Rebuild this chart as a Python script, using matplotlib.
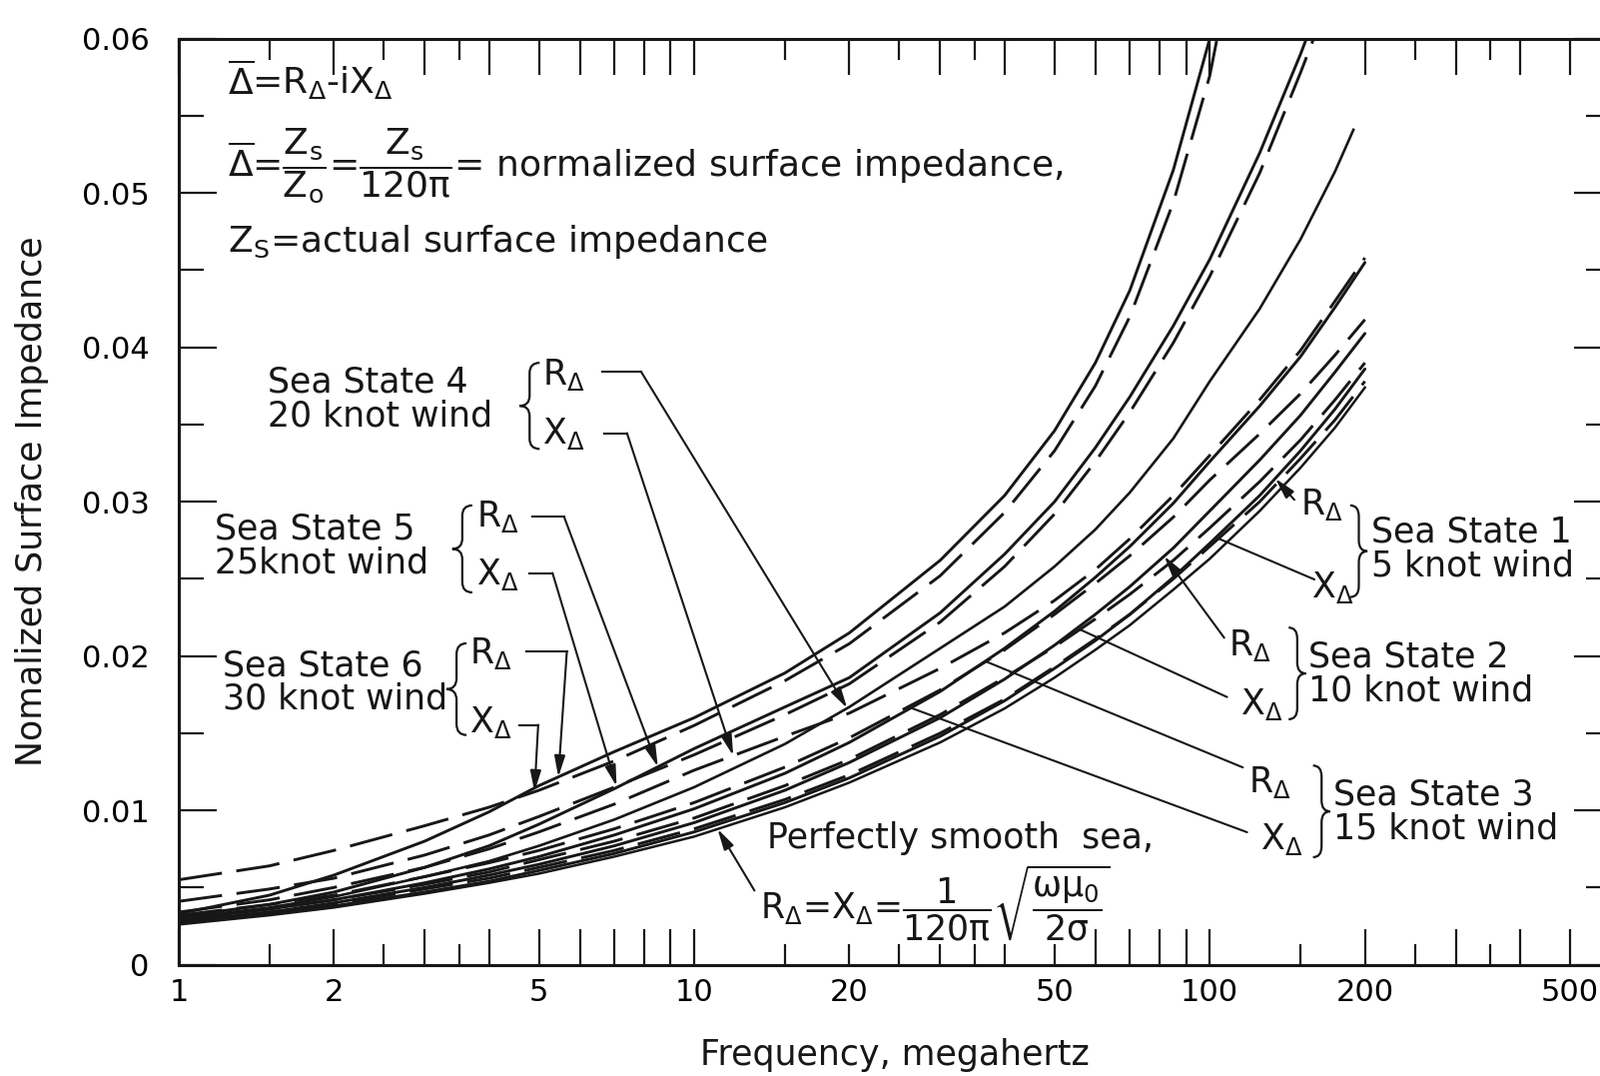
import numpy as np
import matplotlib
matplotlib.use('Agg')
import matplotlib.pyplot as plt
from matplotlib.path import Path
from matplotlib.patches import PathPatch
from matplotlib.ticker import FixedLocator, FixedFormatter, NullFormatter

plt.rcParams['font.family'] = ['DejaVu Sans']
plt.rcParams['mathtext.default'] = 'regular'

freq = [1, 1.5, 2, 3, 4, 5, 7, 10, 15, 20, 30, 40, 50, 60, 70, 85, 100, 125, 150, 175, 200]
freq_r4 = [1, 1.5, 2, 3, 4, 5, 7, 10, 15, 20, 30, 40, 50, 60, 70, 85, 100, 125, 150, 175, 190]

# normalized surface impedance readings
smooth = [0.0026, 0.0032, 0.0037, 0.0046, 0.0053, 0.0059, 0.0070, 0.0083, 0.0102, 0.0118, 0.0144,
          0.0166, 0.0186, 0.0204, 0.0220, 0.0243, 0.0263, 0.0294, 0.0322, 0.0348, 0.0374]
r1 = [0.0027, 0.0033, 0.0038, 0.0047, 0.0054, 0.0061, 0.0072, 0.0086, 0.0105, 0.0121, 0.0148,
      0.0171, 0.0192, 0.0210, 0.0227, 0.0251, 0.0273, 0.0304, 0.0333, 0.0360, 0.0386]
x1 = [0.0028, 0.0034, 0.0039, 0.0049, 0.0056, 0.0063, 0.0074, 0.0088, 0.0107, 0.0123, 0.0150,
      0.0172, 0.0193, 0.0211, 0.0227, 0.0250, 0.0271, 0.0300, 0.0328, 0.0353, 0.0378]
r2 = [0.0028, 0.0034, 0.0040, 0.0050, 0.0058, 0.0065, 0.0077, 0.0092, 0.0113, 0.0131, 0.0160,
      0.0185, 0.0207, 0.0227, 0.0245, 0.0270, 0.0294, 0.0327, 0.0356, 0.0384, 0.0409]
x2 = [0.0030, 0.0036, 0.0042, 0.0052, 0.0060, 0.0068, 0.0080, 0.0095, 0.0116, 0.0133, 0.0162,
      0.0186, 0.0206, 0.0224, 0.0240, 0.0262, 0.0283, 0.0313, 0.0340, 0.0366, 0.0390]
r3 = [0.0029, 0.0036, 0.0042, 0.0053, 0.0062, 0.0070, 0.0084, 0.0101, 0.0124, 0.0144, 0.0177,
      0.0205, 0.0229, 0.0251, 0.0271, 0.0299, 0.0326, 0.0362, 0.0394, 0.0426, 0.0455]
x3 = [0.0032, 0.0039, 0.0045, 0.0057, 0.0066, 0.0074, 0.0088, 0.0105, 0.0128, 0.0147, 0.0178,
      0.0204, 0.0227, 0.0247, 0.0265, 0.0290, 0.0314, 0.0344, 0.0370, 0.0395, 0.0418]
r4 = [0.0030, 0.0037, 0.0044, 0.0057, 0.0067, 0.0077, 0.0094, 0.0115, 0.0143, 0.0167, 0.0205,
      0.0232, 0.0258, 0.0282, 0.0306, 0.0341, 0.0378, 0.0425, 0.0470, 0.0514, 0.0541]
x4 = [0.0034, 0.0042, 0.0050, 0.0063, 0.0075, 0.0086, 0.0104, 0.0126, 0.0148, 0.0163, 0.0192,
      0.0215, 0.0236, 0.0256, 0.0276, 0.0304, 0.0330, 0.0366, 0.0398, 0.0430, 0.0458]
r5 = [0.0031, 0.0039, 0.0047, 0.0063, 0.0077, 0.0091, 0.0114, 0.0140, 0.0167, 0.0186, 0.0228,
      0.0266, 0.0300, 0.0335, 0.0368, 0.0414, 0.0457, 0.0526, 0.0590, 0.0649, 0.0705]
x5 = [0.0041, 0.0049, 0.0056, 0.0071, 0.0084, 0.0096, 0.0115, 0.0136, 0.0162, 0.0182, 0.0222,
      0.0258, 0.0292, 0.0326, 0.0358, 0.0403, 0.0446, 0.0513, 0.0578, 0.0636, 0.0690]
r6 = [0.0033, 0.0045, 0.0058, 0.0080, 0.0099, 0.0116, 0.0138, 0.0160, 0.0189, 0.0215, 0.0262,
      0.0304, 0.0346, 0.0390, 0.0437, 0.0515, 0.0600, 0.0767, 0.0950, np.nan, np.nan]
x6 = [0.0055, 0.0064, 0.0074, 0.0090, 0.0102, 0.0113, 0.0132, 0.0155, 0.0184, 0.0208, 0.0252,
      0.0293, 0.0333, 0.0375, 0.0420, 0.0494, 0.0576, 0.0740, 0.0900, np.nan, np.nan]

ytick_vals = [0, 0.01, 0.02, 0.03, 0.04, 0.05, 0.06]
ytick_labels = ['0', '0.01', '0.02', '0.03', '0.04', '0.05', '0.06']
xtick_labelled = [1, 2, 5, 10, 20, 50, 100, 200, 500]

ink = '#171717'


def on_curve(fq, vals, f):
    return np.interp(np.log10(f), np.log10(fq), vals)


fig = plt.figure(figsize=(16.02, 10.77), dpi=100)
ax = fig.add_axes([0.1117, 0.1035, 0.8951, 0.8605])
ax.set_xscale('log')
ax.set_xlim(1, 600)
ax.set_ylim(0, 0.06)

solid = dict(color=ink, lw=2.1, solid_capstyle='round')
dashed = dict(color=ink, lw=2.1, dashes=(15, 5))

ax.plot(freq, smooth, color=ink, lw=1.8)
for r, x in [(r1, x1), (r2, x2), (r3, x3), (r5, x5), (r6, x6)]:
    ax.plot(freq, r, **solid)
    ax.plot(freq, x, **dashed)
ax.plot(freq_r4, r4, color=ink, lw=1.9)
ax.plot(freq, x4, **dashed)

# axes frame and ticks
for side in ['left', 'bottom', 'top', 'right']:
    ax.spines[side].set_linewidth(2.2)
    ax.spines[side].set_color(ink)

ax.yaxis.set_major_locator(FixedLocator(ytick_vals))
ax.yaxis.set_major_formatter(FixedFormatter(ytick_labels))
ax.yaxis.set_minor_locator(FixedLocator([0.005, 0.015, 0.025, 0.035, 0.045, 0.055]))
ax.tick_params(axis='y', which='both', direction='in', left=True, right=True,
               width=1.6, color=ink, labelsize=22, pad=21)
ax.tick_params(axis='y', which='major', length=27)
ax.tick_params(axis='y', which='minor', length=18)

bottom_long = [1, 2, 3, 4, 5, 6, 7, 8, 9, 10, 60, 70, 80, 90, 100, 200, 300, 400, 500]
bottom_short = [1.5, 2.5, 3.5, 15, 20, 25, 30, 35, 40, 50, 150, 250, 350]
ax.xaxis.set_major_locator(FixedLocator(bottom_long))
ax.xaxis.set_major_formatter(FixedFormatter([str(v) if v in xtick_labelled else '' for v in bottom_long]))
ax.xaxis.set_minor_locator(FixedLocator(bottom_short))
ax.xaxis.set_minor_formatter(FixedFormatter([str(v) if v in xtick_labelled else '' for v in bottom_short]))
ax.tick_params(axis='x', which='both', direction='in', top=False, width=1.6, color=ink,
               labelsize=22, pad=10)
ax.tick_params(axis='x', which='major', length=26)
ax.tick_params(axis='x', which='minor', length=15)

ax_top = ax.twiny()
ax_top.set_xscale('log')
ax_top.set_xlim(ax.get_xlim())
ax_top.xaxis.set_major_locator(FixedLocator([1, 2, 3, 4, 5, 6, 7, 8, 9, 10, 20, 30, 40, 50, 60, 70, 80, 90,
                                             100, 200, 300, 400, 500]))
ax_top.xaxis.set_minor_locator(FixedLocator([1.5, 2.5, 3.5, 15, 25, 35, 250, 350]))
ax_top.xaxis.set_major_formatter(NullFormatter())
ax_top.xaxis.set_minor_formatter(NullFormatter())
ax_top.tick_params(axis='x', which='both', direction='in', width=1.6, color=ink)
ax_top.tick_params(axis='x', which='major', length=26)
ax_top.tick_params(axis='x', which='minor', length=15)
for side in ax_top.spines:
    ax_top.spines[side].set_visible(False)

ax.set_xlabel('Frequency, megahertz', fontsize=25, labelpad=22, color=ink)
ax.set_ylabel('Nomalized Surface Impedance', fontsize=25, labelpad=24, color=ink)

# definitions block
txt = dict(transform=ax.transAxes, ha='left', va='center', color=ink)
ax.text(0.034, 0.956, r'$\overline{\Delta}$=R$_{\Delta}$-iX$_{\Delta}$', fontsize=26, **txt)
ax.text(0.034, 0.862, r'$\overline{\Delta}$=$\dfrac{Z_s}{Z_o}$=$\dfrac{Z_s}{120\pi}$= normalized surface impedance,',
        fontsize=26, **txt)
ax.text(0.034, 0.781, r'Z$_S$=actual surface impedance', fontsize=26, **txt)


def brace(x_tip, x_end, y_lo, y_hi):
    # curly brace drawn in axes fraction; tip on the side of x_tip
    xm = 0.5 * (x_tip + x_end)
    ym = 0.5 * (y_lo + y_hi)
    q = 0.12 * (y_hi - y_lo)
    verts = [(x_end, y_hi), (xm, y_hi), (xm, y_hi - q),
             (xm, ym + q),
             (xm, ym), (x_tip, ym),
             (xm, ym), (xm, ym - q),
             (xm, y_lo + q),
             (xm, y_lo), (x_end, y_lo)]
    codes = [Path.MOVETO, Path.CURVE3, Path.CURVE3,
             Path.LINETO,
             Path.CURVE3, Path.CURVE3,
             Path.CURVE3, Path.CURVE3,
             Path.LINETO,
             Path.CURVE3, Path.CURVE3]
    ax.add_patch(PathPatch(Path(verts, codes), transform=ax.transAxes, fill=False,
                           edgecolor=ink, lw=1.6))


# left side sea state labels
ax.text(0.062, 0.611, 'Sea State 4\n20 knot wind', fontsize=25, linespacing=0.98, **txt)
ax.text(0.025, 0.452, 'Sea State 5\n25knot wind', fontsize=25, linespacing=0.98, **txt)
ax.text(0.031, 0.305, 'Sea State 6\n30 knot wind', fontsize=25, linespacing=0.98, **txt)
brace(0.238, 0.252, 0.557, 0.650)
brace(0.191, 0.205, 0.402, 0.496)
brace(0.187, 0.201, 0.248, 0.347)
for lx, ry, xy in [(0.254, 0.637, 0.573), (0.208, 0.484, 0.421), (0.203, 0.336, 0.262)]:
    ax.text(lx, ry, r'R$_\Delta$', fontsize=25, **txt)
    ax.text(lx, xy, r'X$_\Delta$', fontsize=25, **txt)

# right side sea state labels
ax.text(0.833, 0.449, 'Sea State 1\n5 knot wind', fontsize=25, linespacing=0.98, **txt)
ax.text(0.789, 0.314, 'Sea State 2\n10 knot wind', fontsize=25, linespacing=0.98, **txt)
ax.text(0.806, 0.165, 'Sea State 3\n15 knot wind', fontsize=25, linespacing=0.98, **txt)
brace(0.830, 0.818, 0.397, 0.496)
brace(0.787, 0.775, 0.265, 0.364)
brace(0.804, 0.792, 0.116, 0.215)
for lx, ry, xy in [(0.783, 0.497, 0.407), (0.733, 0.345, 0.281), (0.747, 0.197, 0.135)]:
    ax.text(lx, ry, r'R$_\Delta$', fontsize=25, **txt)
    ax.text(lx + 0.008, xy, r'X$_\Delta$', fontsize=25, **txt)

ax.text(0.411, 0.137, 'Perfectly smooth  sea,', fontsize=25, **txt)
ax.text(0.406, 0.066, r'R$_\Delta$=X$_\Delta$=$\dfrac{1}{120\pi}\sqrt{\dfrac{\omega\mu_0}{2\sigma}}$',
        fontsize=25, **txt)


def leader(start, tip_f, fq, curve, elbow=None, head=True):
    tip = (tip_f, on_curve(fq, curve, tip_f))
    if elbow is not None:
        ax.plot([start[0], elbow[0]], [start[1], elbow[1]], transform=ax.transAxes,
                color=ink, lw=1.5, clip_on=False)
        start = elbow
    style = '-|>,head_length=0.7,head_width=0.18' if head else '-'
    ax.annotate('', xy=tip, xycoords='data', xytext=start, textcoords='axes fraction',
                arrowprops=dict(arrowstyle=style, lw=1.5, color=ink, mutation_scale=18,
                                shrinkA=0, shrinkB=0))


# left side leaders (label stub then line to the curve)
leader((0.296, 0.640), 19.8, freq_r4, r4, elbow=(0.323, 0.640))
leader((0.297, 0.574), 11.9, freq, x4, elbow=(0.313, 0.574))
leader((0.247, 0.484), 8.5, freq, r5, elbow=(0.269, 0.484))
leader((0.245, 0.423), 7.07, freq, x5, elbow=(0.261, 0.423))
leader((0.243, 0.338), 5.45, freq, r6, elbow=(0.271, 0.338))
leader((0.238, 0.259), 4.9, freq, x6, elbow=(0.251, 0.259))

# right side leaders
leader((0.779, 0.502), 134, freq, r1)
leader((0.793, 0.416), 104, freq, x1, head=False)
leader((0.730, 0.353), 81.6, freq, r2)
leader((0.732, 0.289), 56, freq, x2, head=False)
leader((0.743, 0.213), 36.7, freq, r3, head=False)
leader((0.746, 0.143), 26, freq, x3, head=False)

# perfectly smooth sea
leader((0.402, 0.080), 11.1, freq, smooth)

fig.savefig('out.png', dpi=100, facecolor='white')
